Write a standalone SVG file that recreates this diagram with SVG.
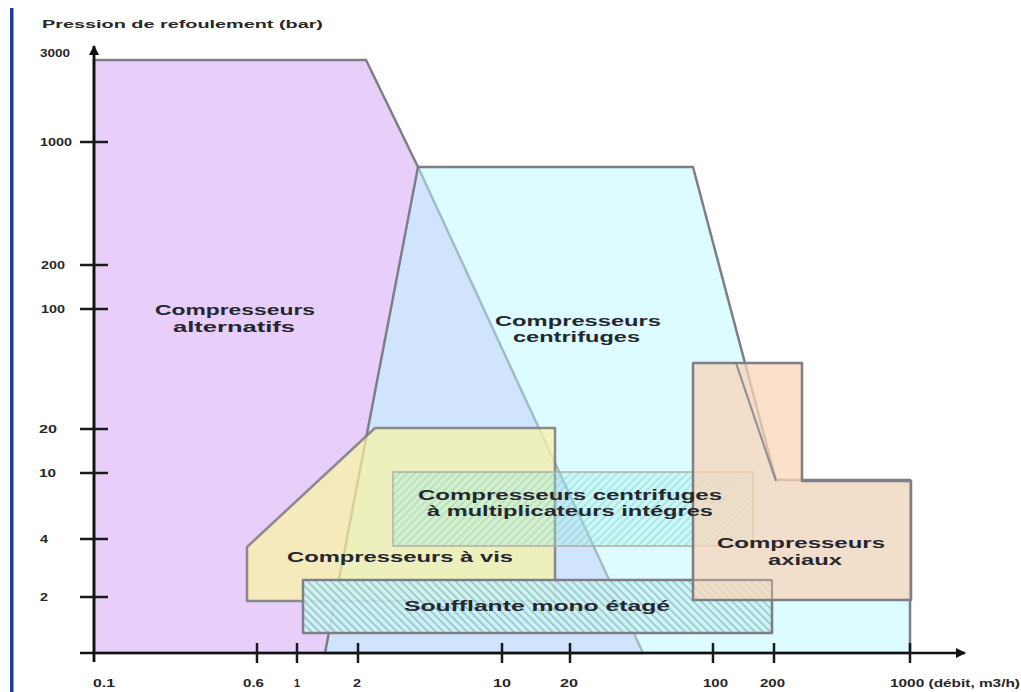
<svg xmlns="http://www.w3.org/2000/svg" width="1021" height="692" viewBox="0 0 1021 692">
<style>
.ax{font-family:"Liberation Sans",Arial,sans-serif;font-weight:bold;font-size:10.5px;fill:#262626}
.lbl{font-family:"Liberation Sans",Arial,sans-serif;font-weight:bold;font-size:15px;fill:#262630}
.edge{stroke:#7e7e86;stroke-width:2.5;stroke-linejoin:round}
.tick{stroke:#1a1a1a;stroke-width:2.5}
</style>
<defs>
<pattern id="hatchB" width="5.5" height="5.5" patternUnits="userSpaceOnUse" patternTransform="rotate(45)">
<rect width="5.5" height="5.5" fill="#d2f1f2"/>
<line x1="0" y1="1" x2="5.5" y2="1" stroke="#78bfc4" stroke-width="1.4"/>
</pattern>
<pattern id="hatchF" width="5.5" height="5.5" patternUnits="userSpaceOnUse" patternTransform="rotate(-45)">
<rect width="5.5" height="5.5" fill="#a8ecea" fill-opacity="0.3"/>
<line x1="0" y1="1" x2="5.5" y2="1" stroke="#7ccfbf" stroke-opacity="0.6" stroke-width="1.3"/>
</pattern>
<marker id="arr" viewBox="0 0 10 10" refX="9" refY="5" markerWidth="10" markerHeight="10" markerUnits="userSpaceOnUse" orient="auto">
<path d="M0,0 L10,5 L0,10 Z" fill="#111"/>
</marker>
</defs>
<rect width="1021" height="692" fill="#ffffff"/>
<rect x="10" y="8" width="3.5" height="684" fill="#1c3f9c"/>

<text class="ax" x="42" y="28" font-size="13" textLength="281" lengthAdjust="spacingAndGlyphs">Pression de refoulement (bar)</text>

<g id="alternatifs">
<polygon class="edge" points="94,60 366,60 418,167 643,653 94,653" fill="#e7cffa"/>
</g>
<g id="centrifuges">
<polygon class="edge" points="325,653 418,167 693,167 776,480 910,480 910,653" fill="rgb(188,249,255)" fill-opacity="0.52"/>
</g>
<g id="vis">
<polygon class="edge" points="375,428 555,428 555,601 247,601 247,547" fill="rgb(250,245,160)" fill-opacity="0.7" stroke-opacity="0.9"/>
</g>
<g id="multiplicateurs">
<rect x="393" y="472" width="360" height="74" fill="url(#hatchF)" stroke="#aeb0a0" stroke-width="1.5"/>
</g>
<g id="soufflante">
<rect x="303" y="580" width="469" height="53" fill="url(#hatchB)" fill-opacity="0.9" class="edge" stroke-width="2"/>
</g>
<g id="axiaux">
<polygon class="edge" points="693,363 802,363 802,481 911,481 911,600 693,600" fill="rgb(249,214,186)" fill-opacity="0.75"/>
<line x1="736" y1="363" x2="776" y2="481" stroke="#7e7e86" stroke-width="2.2" stroke-opacity="0.8"/>
<line x1="693" y1="580" x2="772" y2="580" stroke="#7e7e86" stroke-width="1.8" stroke-opacity="0.6"/>
<line x1="772" y1="580" x2="772" y2="600" stroke="#7e7e86" stroke-width="1.8" stroke-opacity="0.6"/>
</g>

<g id="labels">
<text class="lbl" x="155" y="315" textLength="160" lengthAdjust="spacingAndGlyphs">Compresseurs</text>
<text class="lbl" x="173" y="332" textLength="122" lengthAdjust="spacingAndGlyphs">alternatifs</text>
<text class="lbl" x="495" y="326" textLength="166" lengthAdjust="spacingAndGlyphs">Compresseurs</text>
<text class="lbl" x="513" y="342" textLength="127" lengthAdjust="spacingAndGlyphs">centrifuges</text>
<text class="lbl" x="418" y="500" textLength="304" lengthAdjust="spacingAndGlyphs">Compresseurs centrifuges</text>
<text class="lbl" x="427" y="516" textLength="286" lengthAdjust="spacingAndGlyphs">à multiplicateurs intégres</text>
<text class="lbl" x="287" y="562" textLength="226" lengthAdjust="spacingAndGlyphs">Compresseurs à vis</text>
<text class="lbl" x="404" y="611" textLength="266" lengthAdjust="spacingAndGlyphs">Soufflante mono étagé</text>
<text class="lbl" x="717" y="548" textLength="168" lengthAdjust="spacingAndGlyphs">Compresseurs</text>
<text class="lbl" x="768" y="565" textLength="74" lengthAdjust="spacingAndGlyphs">axiaux</text>
</g>

<g id="axes">
<line x1="94" y1="662" x2="94" y2="46" stroke="#111" stroke-width="2.8" marker-end="url(#arr)"/>
<line x1="80" y1="653" x2="965" y2="653" stroke="#111" stroke-width="2.5" marker-end="url(#arr)"/>
<g class="tick">
<line x1="80" y1="142" x2="108" y2="142"/>
<line x1="80" y1="265" x2="108" y2="265"/>
<line x1="80" y1="309" x2="108" y2="309"/>
<line x1="80" y1="429" x2="108" y2="429"/>
<line x1="80" y1="473" x2="108" y2="473"/>
<line x1="80" y1="539" x2="108" y2="539"/>
<line x1="80" y1="597" x2="108" y2="597"/>
<line x1="257" y1="643" x2="257" y2="663"/>
<line x1="297" y1="643" x2="297" y2="663"/>
<line x1="358" y1="643" x2="358" y2="663"/>
<line x1="502" y1="643" x2="502" y2="663"/>
<line x1="570" y1="643" x2="570" y2="663"/>
<line x1="713" y1="643" x2="713" y2="663"/>
<line x1="774" y1="643" x2="774" y2="663"/>
<line x1="910" y1="643" x2="910" y2="663"/>
</g>
<text class="ax" x="40" y="57" textLength="30" lengthAdjust="spacingAndGlyphs">3000</text>
<text class="ax" x="40" y="146" textLength="32" lengthAdjust="spacingAndGlyphs">1000</text>
<text class="ax" x="41" y="269" textLength="24" lengthAdjust="spacingAndGlyphs">200</text>
<text class="ax" x="41" y="313" textLength="24" lengthAdjust="spacingAndGlyphs">100</text>
<text class="ax" x="39" y="433" textLength="18" lengthAdjust="spacingAndGlyphs">20</text>
<text class="ax" x="39" y="477" textLength="17" lengthAdjust="spacingAndGlyphs">10</text>
<text class="ax" x="40" y="543" textLength="8" lengthAdjust="spacingAndGlyphs">4</text>
<text class="ax" x="40" y="601" textLength="8" lengthAdjust="spacingAndGlyphs">2</text>
<text class="ax" x="93" y="687" textLength="22" lengthAdjust="spacingAndGlyphs">0.1</text>
<text class="ax" x="243" y="687" textLength="21" lengthAdjust="spacingAndGlyphs">0.6</text>
<text class="ax" x="294" y="687" textLength="6" lengthAdjust="spacingAndGlyphs">1</text>
<text class="ax" x="353" y="687" textLength="8" lengthAdjust="spacingAndGlyphs">2</text>
<text class="ax" x="493" y="687" textLength="18" lengthAdjust="spacingAndGlyphs">10</text>
<text class="ax" x="560" y="687" textLength="18" lengthAdjust="spacingAndGlyphs">20</text>
<text class="ax" x="703" y="687" textLength="25" lengthAdjust="spacingAndGlyphs">100</text>
<text class="ax" x="760" y="687" textLength="25" lengthAdjust="spacingAndGlyphs">200</text>
<text class="ax" x="890" y="687" textLength="130" lengthAdjust="spacingAndGlyphs">1000 (débit, m3/h)</text>
</g>
</svg>
